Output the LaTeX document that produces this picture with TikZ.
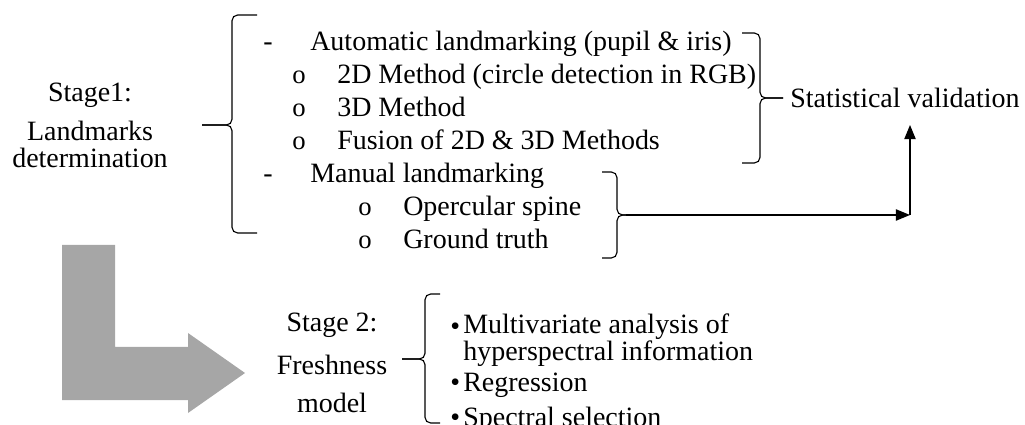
\documentclass[tikz,border=0pt]{standalone}
\usepackage{fontspec}
\setmainfont{Liberation Serif}
\usetikzlibrary{arrows.meta}

\begin{document}
\begin{tikzpicture}[x=0.025cm,y=-0.025cm,font=\fontsize{19.9}{24}\selectfont]
\tikzstyle{stagetext} =[inner sep=0pt,anchor=base]
\tikzstyle{listitem} =[inner sep=0pt,anchor=base west]
\tikzstyle{ring} =[listitem,font=\fontsize{19}{20}\selectfont]
\tikzstyle{brace} =[line width=0.8pt,rounded corners=4pt]
\tikzstyle{link} =[line width=0.9pt,-{Triangle[length=10pt,width=8pt]}]
\useasboundingbox (0,0) rectangle (1025,425);

\node[stagetext](stage1) at (90,102){Stage1:};
\node[stagetext](land) at (90,141){Landmarks};
\node[stagetext](determ) at (90,168){determination};

\node[listitem](dashauto) at (263,51){-};
\node[listitem](auto) at (310,51){Automatic landmarking (pupil \& iris)};
\node[ring](ringa) at (292,84){o};
\node[listitem](twod) at (337,84){2D Method (circle detection in RGB)};
\node[ring](ringb) at (292,117){o};
\node[listitem](threed) at (337,117){3D Method};
\node[ring](ringc) at (292,150){o};
\node[listitem](fusion) at (337,150){Fusion of 2D \& 3D Methods};
\node[listitem](dashman) at (263,183){-};
\node[listitem](manual) at (310,183){Manual landmarking};
\node[ring](ringd) at (358,216){o};
\node[listitem](spine) at (403,216){Opercular spine};
\node[ring](ringe) at (358,249){o};
\node[listitem](truth) at (403,249){Ground truth};

\node[listitem](stat) at (790,108){Statistical validation};

\draw[brace] (257,15) -| (232,125) -- (202,125);
\draw[brace] (202,125) -- (232,125) |- (257,233);

\draw[brace] (742,33) -| (760,98) -- (783,98);
\draw[brace] (783,98) -- (760,98) |- (742,163);

\draw[brace] (602,172) -| (617,215) -- (626,215);
\draw[brace] (626,215) -- (617,215) |- (602,258);

\coordinate (mantip) at (626,215);
\coordinate (corner) at (910,215);
\coordinate (statin) at (910,125);
\draw[link] (mantip)--(corner);
\draw[link] (corner)--(statin);

\fill[black!35] (62,245) -- (115,245) -- (115,347) -- (188,347) -- (188,333)
  -- (245,373) -- (188,413) -- (188,400) -- (62,400) -- cycle;

\node[stagetext](stage2) at (332,332){Stage 2:};
\node[stagetext](fresh) at (332,374){Freshness};
\node[stagetext](model) at (332,412){model};

\draw[brace] (440,294) -| (425,359) -- (402,359);
\draw[brace] (402,359) -- (425,359) |- (440,423);

\node[listitem](dota) at (450,336){\textbullet};
\node[listitem,align=left,font=\fontsize{19.9}{17.7}\selectfont](multi) at (463,361)
  {Multivariate analysis of\\hyperspectral information};
\node[listitem](dotb) at (450,391){\textbullet};
\node[listitem](regr) at (463,391){Regression};
\node[listitem](dotc) at (450,426){\textbullet};
\node[listitem](select) at (463,426){Spectral selection};
\end{tikzpicture}
\end{document}
